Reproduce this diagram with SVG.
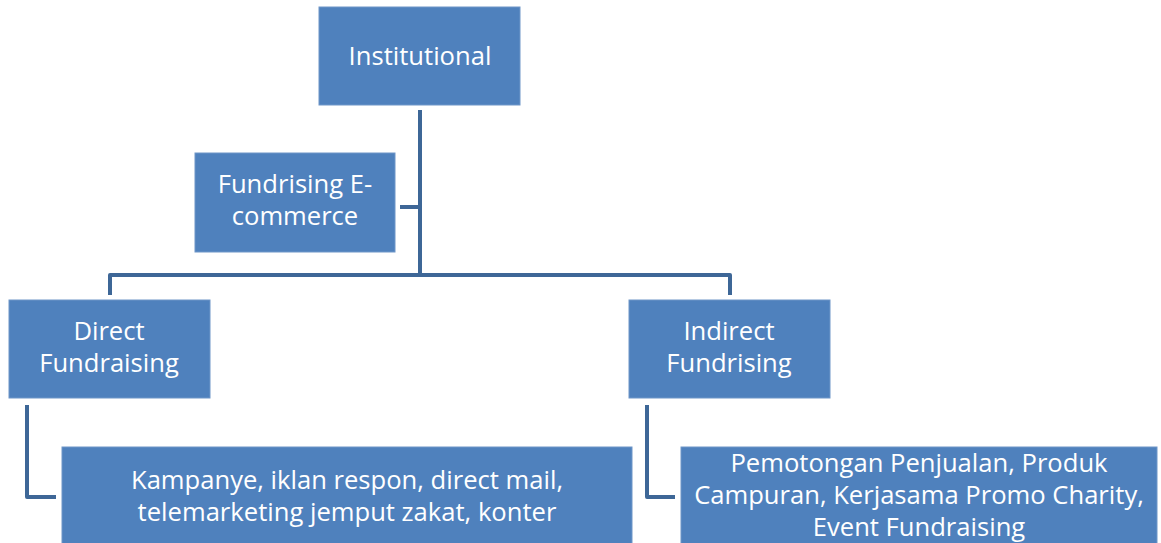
<svg xmlns="http://www.w3.org/2000/svg" width="1161" height="543" viewBox="0 0 1161 543">
<style>
.box{fill:#4F81BD;stroke:#6F96C8;stroke-width:1}
.t{font-family:"Open Sans","Liberation Sans",sans-serif;font-size:25.6px;fill:#FFFFFF;text-anchor:middle}
.c{fill:none;stroke:#3E6797;stroke-width:4;stroke-linejoin:round}
</style>
<rect width="1161" height="543" fill="#FFFFFF"/>
<g id="connectors">
<path class="c" d="M420 110 V275"/>
<path class="c" d="M400 207 H420"/>
<path class="c" d="M110 295 V275 H730 V295"/>
<path class="c" d="M27 405 V497 H56"/>
<path class="c" d="M647 405 V497 H675"/>
</g>
<g id="institutional"><rect class="box" x="319" y="7" width="201" height="98"/><text class="t" x="420" y="65">Institutional</text></g>
<g id="ecommerce"><rect class="box" x="195" y="153" width="200" height="99"/><text class="t" x="295" y="193">Fundrising E-</text><text class="t" x="295" y="225">commerce</text></g>
<g id="direct"><rect class="box" x="9" y="300" width="201" height="98"/><text class="t" x="109" y="340">Direct</text><text class="t" x="109" y="372">Fundraising</text></g>
<g id="indirect"><rect class="box" x="629" y="300" width="201" height="98"/><text class="t" x="729" y="340">Indirect</text><text class="t" x="729" y="372">Fundrising</text></g>
<g id="direct-detail"><rect class="box" x="62" y="447" width="570" height="100"/><text class="t" x="347" y="489">Kampanye, iklan respon, direct mail,</text><text class="t" x="347" y="521">telemarketing jemput zakat, konter</text></g>
<g id="indirect-detail"><rect class="box" x="681" y="447" width="476" height="100"/><text class="t" x="919" y="472">Pemotongan Penjualan, Produk</text><text class="t" x="919" y="504">Campuran, Kerjasama Promo Charity,</text><text class="t" x="919" y="536">Event Fundraising</text></g>
</svg>
